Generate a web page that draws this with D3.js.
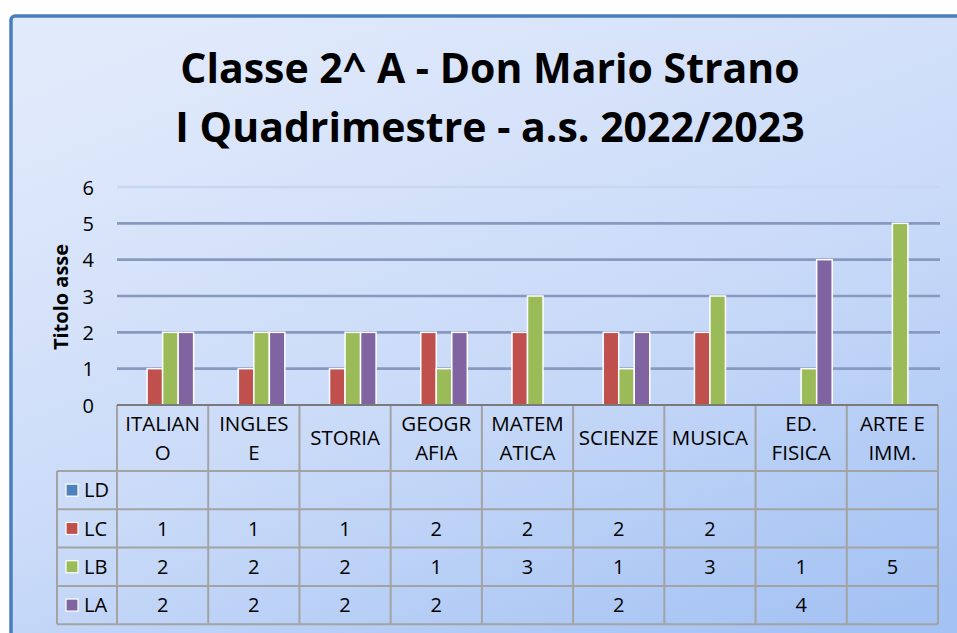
<!DOCTYPE html>
<html>
<head>
<meta charset="utf-8">
<script src="https://cdn.jsdelivr.net/npm/d3@7"></script>
<style>
  body { margin: 0; background: #fff; }
  svg { display: block; }
  text { font-family: "Open Sans", "DejaVu Sans", sans-serif; fill: #000; }
</style>
</head>
<body>
<div id="main"></div>
<script>

// data
const categories = ['ITALIANO', 'INGLESE', 'STORIA', 'GEOGRAFIA', 'MATEMATICA', 'SCIENZE', 'MUSICA', 'ED. FISICA', 'ARTE E IMM.'];
const catLines = [['ITALIAN', 'O'], ['INGLES', 'E'], ['STORIA'], ['GEOGR', 'AFIA'], ['MATEM', 'ATICA'], ['SCIENZE'], ['MUSICA'], ['ED.', 'FISICA'], ['ARTE E', 'IMM.']];
const seriesNames = ['LD', 'LC', 'LB', 'LA'];
const seriesColors = ['#4F81BD', '#C0504D', '#9BBB59', '#8064A2'];
const LD = [null, null, null, null, null, null, null, null, null];
const LC = [1, 1, 1, 2, 2, 2, 2, null, null];
const LB = [2, 2, 2, 1, 3, 1, 3, 1, 5];
const LA = [2, 2, 2, 2, null, 2, null, 4, null];
const yTicks = [0, 1, 2, 3, 4, 5, 6];
const titleLines = ['Classe 2^ A - Don Mario Strano', 'I Quadrimestre - a.s. 2022/2023'];
const axisTitle = 'Titolo asse';

const seriesValues = [LD, LC, LB, LA];

const w = 957;
const h = 633;

const svg = d3.select('#main').append('svg').attr('width', w).attr('height', h);

const defs = svg.append('defs');
const grad = defs.append('linearGradient').attr('id', 'bg')
    .attr('x1', '0.2').attr('y1', '0').attr('x2', '0.8').attr('y2', '1');
grad.append('stop').attr('offset', '0%').attr('stop-color', '#e1eafb');
grad.append('stop').attr('offset', '55%').attr('stop-color', '#c9daf8');
grad.append('stop').attr('offset', '100%').attr('stop-color', '#a4c2f3');

const blur = defs.append('filter').attr('id', 'soft').attr('x', '-5%').attr('y', '-200%').attr('width', '110%').attr('height', '500%');
blur.append('feGaussianBlur').attr('stdDeviation', 1.5);

// chart area with border
svg.append('rect')
    .attr('x', 11).attr('y', 16).attr('width', 970).attr('height', 640)
    .attr('rx', 4)
    .attr('fill', 'url(#bg)')
    .attr('stroke', '#4a7ebb').attr('stroke-width', 3.5);

// title
const title = svg.append('g');
title.selectAll('text').data(titleLines).enter().append('text')
    .attr('x', 490)
    .attr('y', (d, i) => 83 + i * 59)
    .attr('text-anchor', 'middle')
    .style('font-weight', 'bold')
    .style('font-size', '41px')
    .text(d => d);

// scales
const xScale = d3.scaleBand().domain(categories).range([117, 938]);
const xInner = d3.scaleBand().domain(seriesNames).range([0, xScale.bandwidth()]).paddingOuter(0.94);
const yScale = d3.scaleLinear().domain([0, 6]).range([405, 187]);

// gridlines
const grid = svg.append('g');
grid.selectAll('line.shadow').data(yTicks.filter(d => d > 0)).enter().append('line')
    .attr('class', 'shadow')
    .attr('x1', 104).attr('x2', 946)
    .attr('y1', d => yScale(d) - 1).attr('y2', d => yScale(d) - 1)
    .attr('stroke', d => d === 6 ? '#c4d3ee' : '#a7b8da')
    .attr('stroke-width', 6)
    .attr('filter', 'url(#soft)');
grid.selectAll('line.main').data(yTicks.filter(d => d > 0)).enter().append('line')
    .attr('class', 'main')
    .attr('x1', 117).attr('x2', 940)
    .attr('y1', d => yScale(d)).attr('y2', d => yScale(d))
    .attr('stroke', d => d === 6 ? '#c8d6f0' : '#8899c0')
    .attr('stroke-width', 2.6);

// y axis
const yAxis = d3.axisLeft(yScale).tickValues(yTicks).tickFormat(d3.format('d')).tickSize(0).tickPadding(0);
const yg = svg.append('g').attr('transform', 'translate(94,0)').call(yAxis);
yg.select('.domain').remove();
yg.selectAll('text')
    .style('font-family', '"Open Sans", sans-serif')
    .style('font-size', '20px')
    .attr('dy', '0.36em');

svg.append('text')
    .attr('transform', 'translate(68,297) rotate(-90)')
    .attr('text-anchor', 'middle')
    .style('font-weight', 'bold')
    .style('font-size', '20px')
    .text(axisTitle);

// bars
const bars = svg.append('g');
seriesNames.forEach((s, si) => {
    bars.selectAll('rect.s' + si)
        .data(seriesValues[si].map((v, i) => ({ cat: categories[i], v: v })).filter(d => d.v !== null))
        .enter().append('rect')
        .attr('class', 's' + si)
        .attr('x', d => xScale(d.cat) + xInner(s))
        .attr('width', xInner.bandwidth())
        .attr('y', d => yScale(d.v))
        .attr('height', d => yScale(0) - yScale(d.v))
        .attr('fill', seriesColors[si])
        .attr('stroke', '#fff')
        .attr('stroke-width', 1.5);
});

// data table
const table = svg.append('g');
const headTop = 405;
const headBottom = 471;
const rowH = 38.3;
const tableLeft = 57;
const gridColor = '#a3a3a3';

// header vertical lines
table.selectAll('line.hv').data(categories.concat(['end'])).enter().append('line')
    .attr('x1', (d, i) => i < categories.length ? xScale(d) : xScale.range()[1])
    .attr('x2', (d, i) => i < categories.length ? xScale(d) : xScale.range()[1])
    .attr('y1', headTop).attr('y2', headBottom + rowH * 4)
    .attr('stroke', gridColor).attr('stroke-width', 2);

// row lines
table.selectAll('line.rh').data(d3.range(5)).enter().append('line')
    .attr('x1', tableLeft).attr('x2', xScale.range()[1])
    .attr('y1', d => headBottom + d * rowH).attr('y2', d => headBottom + d * rowH)
    .attr('stroke', gridColor).attr('stroke-width', 2);
table.append('line')
    .attr('x1', tableLeft).attr('x2', tableLeft)
    .attr('y1', headBottom).attr('y2', headBottom + rowH * 4)
    .attr('stroke', gridColor).attr('stroke-width', 2);

// header labels
categories.forEach((c, i) => {
    const lines = catLines[i];
    const cx = xScale(c) + xScale.bandwidth() / 2;
    const t = table.append('text').attr('text-anchor', 'middle').style('font-size', '20.5px');
    lines.forEach((l, j) => {
        const y0 = lines.length === 1 ? 445 : 431 + j * 29;
        t.append('tspan').attr('x', cx).attr('y', y0).text(l);
    });
});

// axis line
svg.append('line')
    .attr('x1', 117).attr('x2', 938)
    .attr('y1', yScale(0)).attr('y2', yScale(0))
    .attr('stroke', '#7a7a7a').attr('stroke-width', 2);

// rows
seriesNames.forEach((s, si) => {
    const yc = headBottom + si * rowH + rowH / 2;
    table.append('rect')
        .attr('x', 66).attr('y', yc - 6).attr('width', 12).attr('height', 12)
        .attr('fill', seriesColors[si]).attr('stroke', '#fff').attr('stroke-width', 1.2);
    table.append('text').attr('x', 84).attr('y', yc).attr('dy', '0.36em')
        .style('font-size', '20px').text(s);
    table.selectAll('text.v' + si)
        .data(seriesValues[si].map((v, i) => ({ cat: categories[i], v: v })).filter(d => d.v !== null))
        .enter().append('text')
        .attr('class', 'v' + si)
        .attr('x', d => xScale(d.cat) + xScale.bandwidth() / 2)
        .attr('y', yc).attr('dy', '0.36em')
        .attr('text-anchor', 'middle')
        .style('font-size', '20px')
        .text(d => d.v);
});

</script>
</body>
</html>
